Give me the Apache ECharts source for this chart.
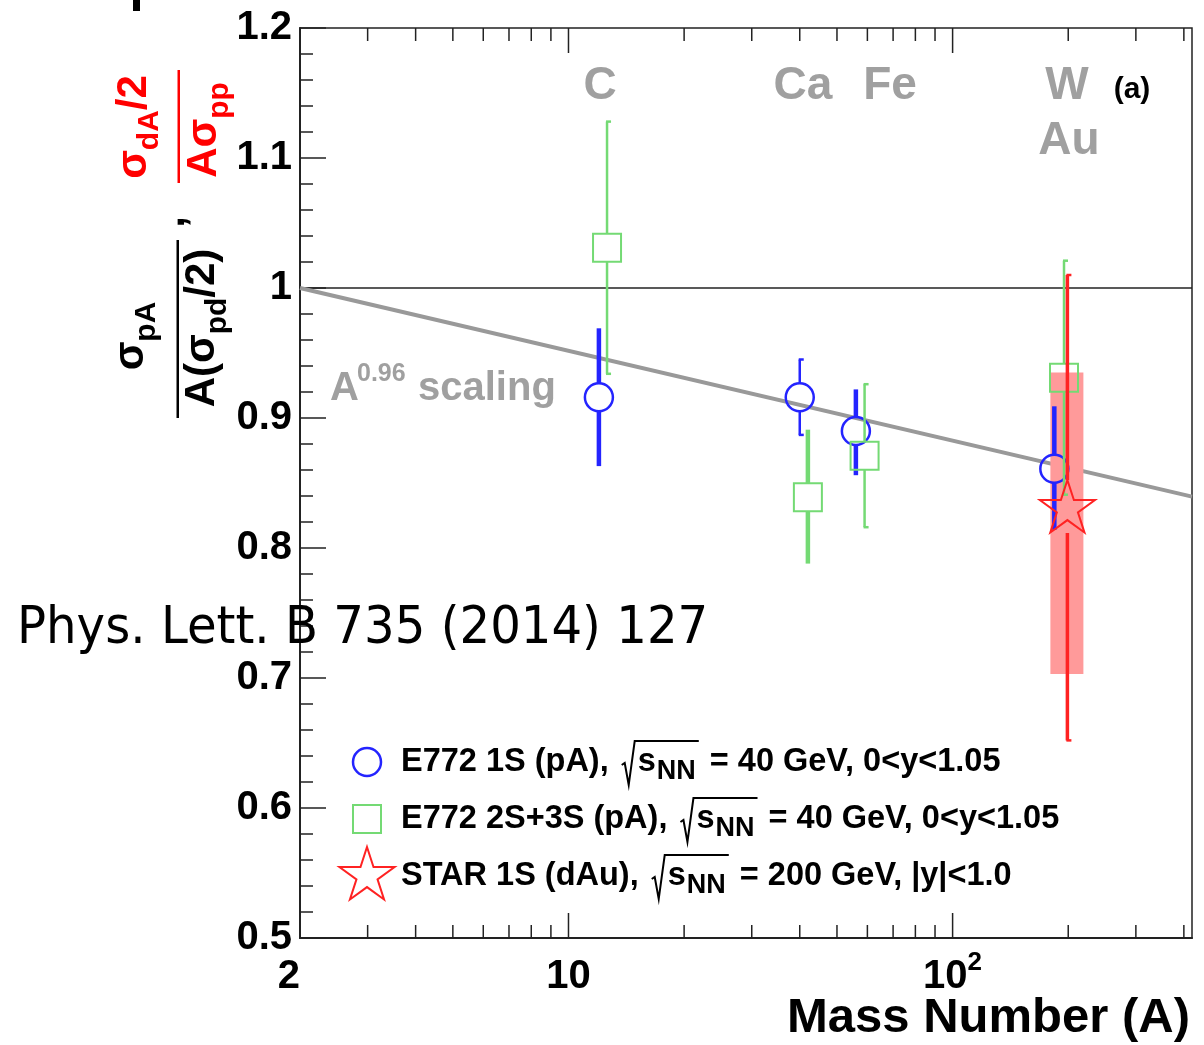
<!DOCTYPE html>
<html><head><meta charset="utf-8">
<script src="https://cdn.jsdelivr.net/npm/echarts@6/dist/echarts.min.js"></script>
<style>html,body{margin:0;padding:0;background:#fff}#chart{width:1204px;height:1045px}</style>
</head><body><div id="chart"></div>
<script>
// ---------------- data ----------------
const targetNames = ['C', 'Ca', 'Fe', 'W'];

const e772_1S_A     = [12, 40, 56, 184];
const e772_1S_ratio = [0.916, 0.916, 0.890, 0.861];
const e772_1S_low   = [0.863, 0.887, 0.856, 0.814];
const e772_1S_high  = [0.969, 0.945, 0.922, 0.909];

const e772_2S3S_A     = [12.6, 42, 59, 195];
const e772_2S3S_ratio = [1.031, 0.839, 0.871, 0.931];
const e772_2S3S_low   = [0.934, 0.788, 0.816, 0.841];
const e772_2S3S_high  = [1.128, 0.891, 0.926, 1.021];

const star_A        = [199];
const star_ratio    = [0.830];
const star_statLow  = [0.652];
const star_statHigh = [1.010];
const star_sysLow   = [0.703];
const star_sysHigh  = [0.935];

const scaling_A     = [2, 420];
const scaling_ratio = [1.0, 0.8395];
const unity_A       = [2, 420];
const unity_ratio   = [1, 1];

const xMajorTicks = [10, 100];
const xMinorTicks = [3, 4, 5, 6, 7, 8, 9, 20, 30, 40, 50, 60, 70, 80, 90, 200, 300, 400];
const xTickLabels = [2, 10, 100];

// error-bar drawing kinds (style only)
const e772_1S_barKind   = ['thick', 'capped', 'thick', 'thick'];
const e772_2S3S_barKind = ['capped', 'thick', 'capped', 'capped'];
const star_barKind      = ['cappedWide'];

// ---------------- styles ----------------
const FONT = '"Liberation Sans", Arial, Helvetica, sans-serif';
const BLUE = '#2424ff', GREEN = '#74da74', RED = '#ff2222', BOX = '#ff9a9a';
const GRAYTXT = '#a0a0a0';
const X_MIN = 2, X_MAX = 420, Y_MIN = 0.5, Y_MAX = 1.2;

function seg(x1, y1, x2, y2, color, lw) {
  return { type: 'line', shape: { x1, y1, x2, y2 }, style: { stroke: color, lineWidth: lw } };
}
function starPoints(cx, cy, R) {
  const pts = [], r = R * 0.382;
  for (let k = 0; k < 10; k++) {
    const ang = -Math.PI / 2 + k * Math.PI / 5;
    const rr = k % 2 === 0 ? R : r;
    pts.push([cx + rr * Math.cos(ang), cy + rr * Math.sin(ang)]);
  }
  return pts;
}
const markers = {
  circle: (x, y, c) => ({ type: 'circle', shape: { cx: x, cy: y, r: 14 }, style: { fill: 'none', stroke: c, lineWidth: 2.5 } }),
  square: (x, y, c) => ({ type: 'rect', shape: { x: x - 14, y: y - 14, width: 28, height: 28 }, style: { fill: 'none', stroke: c, lineWidth: 2 } }),
  star: (x, y, c) => ({ type: 'polygon', shape: { points: starPoints(x, y, 29) }, style: { fill: 'none', stroke: c, lineWidth: 2 } })
};
const markerGap = { circle: [14, 14], square: [14, 14], star: [29, 24] };
const barWidth = { thick: 4.5, capped: 2.5, cappedWide: 3.5 };

function errSeries(name, A, val, lo, hi, kinds, color, mtype, z) {
  return {
    type: 'custom', name, z, silent: true, clip: false,
    data: A.map((a, i) => [a, val[i], lo[i], hi[i], i]),
    renderItem(params, api) {
      const i = api.value(4);
      const c = api.coord([api.value(0), api.value(1)]);
      const t = api.coord([api.value(0), api.value(3)]);
      const b = api.coord([api.value(0), api.value(2)]);
      const kind = kinds[i];
      const lw = barWidth[kind];
      const x = c[0];
      const [gt, gb] = markerGap[mtype];
      const ch = [];
      if (t[1] < c[1] - gt) ch.push(seg(x, t[1], x, c[1] - gt, color, lw));
      if (b[1] > c[1] + gb) ch.push(seg(x, c[1] + gb, x, b[1], color, lw));
      if (kind !== 'thick') {
        ch.push(seg(x - 1, t[1], x + 4, t[1], color, 2.5));
        ch.push(seg(x - 1, b[1], x + 4, b[1], color, 2.5));
      }
      ch.push(markers[mtype](c[0], c[1], color));
      return { type: 'group', children: ch };
    }
  };
}
function tickSeries(vals, len) {
  return {
    type: 'custom', silent: true, clip: false, z: 20,
    data: vals.map(v => [v, Y_MIN]),
    renderItem(params, api) {
      const v = api.value(0);
      const b = api.coord([v, Y_MIN]);
      const t = api.coord([v, Y_MAX]);
      return { type: 'group', children: [
        seg(b[0], b[1], b[0], b[1] - len, '#222', 1.5),
        seg(t[0], t[1], t[0], t[1] + len, '#222', 1.5)
      ] };
    }
  };
}

// ---------------- graphic texts ----------------
const cvs = document.createElement('canvas').getContext('2d');
function measure(str, size, weight) {
  cvs.font = (weight || 'bold') + ' ' + size + 'px ' + FONT;
  return cvs.measureText(str).width;
}
function txt(x, y, text, size, color, align, extra) {
  return Object.assign({ type: 'text', x, y, z: 50, silent: true,
    style: { text, fill: color, font: 'bold ' + size + 'px ' + FONT, align: align || 'center', verticalAlign: 'middle' } }, extra || {});
}
const graphics = [];
// element labels
graphics.push(txt(600, 86, 'C', 46, GRAYTXT));
graphics.push(txt(803, 86, 'Ca', 46, GRAYTXT));
graphics.push(txt(890, 86, 'Fe', 46, GRAYTXT));
graphics.push(txt(1067, 86, 'W', 46, GRAYTXT));
graphics.push(txt(1069, 141, 'Au', 46, GRAYTXT));
graphics.push(txt(1132, 90, '(a)', 30, '#000'));
// A^0.96 scaling
graphics.push(txt(330, 389, 'A', 40, GRAYTXT, 'left'));
graphics.push(txt(357, 374, '0.96', 25, GRAYTXT, 'left'));
graphics.push(txt(418, 389, 'scaling', 40, GRAYTXT, 'left'));
// Reference overlay
graphics.push({ type: 'text', x: 17, y: 630, z: 60, silent: true, scaleX: 0.945,
  style: { text: 'Phys. Lett. B 735 (2014) 127', fill: '#000', font: '51px "DejaVu Sans", sans-serif', align: 'left', verticalAlign: 'middle' } });
// x axis title
graphics.push(txt(1190, 1018, 'Mass Number (A)', 49, '#000', 'right'));
// top-left fragment
graphics.push({ type: 'rect', shape: { x: 133, y: 0, width: 7, height: 11 }, style: { fill: '#000' }, silent: true });

// y-axis title (rotated)
const titleRich = (color) => ({
  m: { fontSize: 42, fontWeight: 'bold', fontFamily: FONT, fill: color, lineHeight: 62, verticalAlign: 'middle' },
  s: { fontSize: 30, fontWeight: 'bold', fontFamily: FONT, fill: color, lineHeight: 30, verticalAlign: 'bottom' }
});
function rtxt(x, y, text, color) {
  return { type: 'text', x, y, rotation: Math.PI / 2, z: 50, silent: true,
    style: { text, rich: titleRich(color), fill: color, font: 'bold 42px ' + FONT, align: 'center', verticalAlign: 'middle' } };
}
graphics.push(rtxt(131, 336, '{m|σ}{s|pA}', '#000'));
graphics.push({ type: 'rect', shape: { x: 176.5, y: 240, width: 2.5, height: 178 }, style: { fill: '#000' }, silent: true });
graphics.push(rtxt(202, 328, '{m|A(σ}{s|pd}{m|/2)}', '#000'));
graphics.push({ type: 'text', x: 172, y: 222, rotation: Math.PI / 2, silent: true,
  style: { text: ',', fill: '#000', font: 'bold 42px ' + FONT, align: 'center', verticalAlign: 'middle' } });
graphics.push(rtxt(134, 127, '{m|σ}{s|dA}{m|/2}', '#ff0000'));
graphics.push({ type: 'rect', shape: { x: 177.5, y: 70, width: 2.5, height: 113 }, style: { fill: '#ff0000' }, silent: true });
graphics.push(rtxt(204, 130, '{m|Aσ}{s|pp}', '#ff0000'));

// legend
const LF = 32.5;
function legendRow(y, mtype, color, text1, text2) {
  const x0 = 401;
  const w1 = measure(text1, LF);
  const sx = x0 + w1 + 13;
  const sxS = sx + 16;
  const ws = measure('s', LF);
  const nx = sxS + ws + 1;
  const wn = measure('NN', 27);
  const ovEnd = nx + wn + 3;
  const out = [];
  out.push(Object.assign({ silent: true, z: 50 }, markers[mtype](367, y, color)));
  out.push(txt(x0, y, text1, LF, '#000', 'left'));
  out.push({ type: 'polyline', silent: true, z: 50,
    shape: { points: [[sx, y + 3], [sx + 3, y + 1], [sx + 7, y + 23], [sx + 13, y - 21], [ovEnd, y - 21]] },
    style: { stroke: '#000', lineWidth: 2, fill: 'none' } });
  out.push(txt(sxS, y, 's', LF, '#000', 'left'));
  out.push(txt(nx, y + 10, 'NN', 27, '#000', 'left'));
  out.push(txt(ovEnd + 2, y, ' ' + text2, LF, '#000', 'left'));
  return out;
}
graphics.push(...legendRow(762, 'circle', BLUE, 'E772 1S (pA),', '= 40 GeV, 0<y<1.05'));
graphics.push(...legendRow(819, 'square', GREEN, 'E772 2S+3S (pA),', '= 40 GeV, 0<y<1.05'));
graphics.push(...legendRow(876, 'star', RED, 'STAR 1S (dAu),', '= 200 GeV, |y|<1.0'));

// ---------------- chart ----------------
const chart = echarts.init(document.getElementById('chart'), null, { renderer: 'canvas' });
chart.setOption({
  animation: false,
  backgroundColor: '#fff',
  grid: { left: 300, top: 28, right: 12, bottom: 107, show: true, borderColor: '#222', borderWidth: 1.5,
          containLabel: false, outerBoundsMode: 'none' },
  xAxis: {
    type: 'log', logBase: 10, min: X_MIN, max: X_MAX,
    axisLine: { show: true, onZero: false, lineStyle: { color: '#222', width: 2 } },
    axisTick: { show: false }, splitLine: { show: false }, minorTick: { show: false },
    axisLabel: {
      customValues: xTickLabels, margin: 12, alignMinLabel: 'right', color: '#000',
      fontFamily: FONT, fontWeight: 'bold', fontSize: 40,
      formatter: v => { const r = Math.round(v); return r === 100 ? '{n|10}{sup|2}' : '{n|' + r + '}'; },
      rich: {
        n: { fontSize: 40, fontWeight: 'bold', fontFamily: FONT, color: '#000', lineHeight: 54 },
        sup: { fontSize: 26, fontWeight: 'bold', fontFamily: FONT, color: '#000', lineHeight: 26, verticalAlign: 'top' }
      }
    }
  },
  yAxis: {
    type: 'value', min: Y_MIN, max: Y_MAX, interval: 0.1,
    axisLine: { show: true, onZero: false, lineStyle: { color: '#222', width: 2 } },
    axisTick: { show: true, inside: true, length: 26, lineStyle: { color: '#222', width: 1.5 } },
    minorTick: { show: true, splitNumber: 5, length: 13, lineStyle: { color: '#222', width: 1.5 } },
    splitLine: { show: false },
    axisLabel: { margin: 8, color: '#000', fontFamily: FONT, fontWeight: 'bold', fontSize: 40,
      formatter: v => String(parseFloat(v.toFixed(1))) }
  },
  series: [
    { type: 'line', name: 'unity', silent: true, symbol: 'none', z: 2,
      data: unity_A.map((a, i) => [a, unity_ratio[i]]), lineStyle: { color: '#222', width: 1.5 } },
    { type: 'line', name: 'A^0.96 scaling', silent: true, symbol: 'none', z: 3,
      data: scaling_A.map((a, i) => [a, scaling_ratio[i]]), lineStyle: { color: '#999', width: 4 } },
    { type: 'custom', name: 'STAR sys', silent: true, z: 4,
      data: star_A.map((a, i) => [a, star_sysLow[i], star_sysHigh[i]]),
      renderItem(params, api) {
        const lo = api.coord([api.value(0), api.value(1)]);
        const hi = api.coord([api.value(0), api.value(2)]);
        return { type: 'rect', shape: { x: lo[0] - 17, y: hi[1], width: 33, height: lo[1] - hi[1] }, style: { fill: BOX } };
      } },
    errSeries('E772 1S (pA)', e772_1S_A, e772_1S_ratio, e772_1S_low, e772_1S_high, e772_1S_barKind, BLUE, 'circle', 5),
    errSeries('E772 2S+3S (pA)', e772_2S3S_A, e772_2S3S_ratio, e772_2S3S_low, e772_2S3S_high, e772_2S3S_barKind, GREEN, 'square', 6),
    errSeries('STAR 1S (dAu)', star_A, star_ratio, star_statLow, star_statHigh, star_barKind, RED, 'star', 7),
    tickSeries(xMajorTicks, 25),
    tickSeries(xMinorTicks, 13)
  ],
  graphic: { elements: graphics }
});
</script></body></html>
